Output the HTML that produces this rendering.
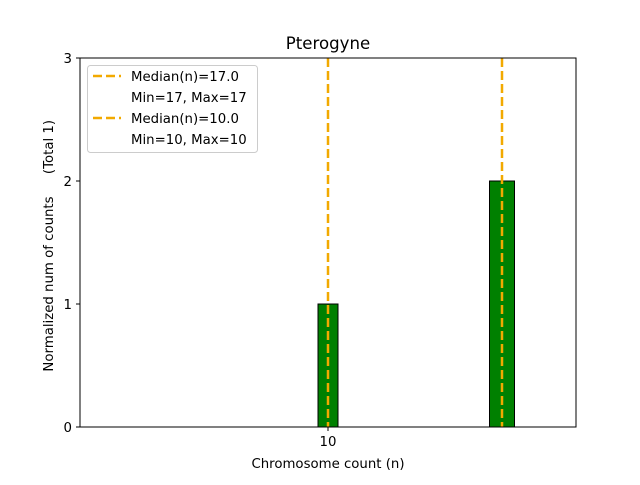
<!DOCTYPE html>
<html><head><style>body{margin:0;background:#fff}</style></head><body>
<svg width="640" height="480" xmlns="http://www.w3.org/2000/svg" font-family="DejaVu Sans, sans-serif">
<rect width="640" height="480" fill="#fff"/>
<rect x="318" y="304" width="20" height="123" fill="#008000" stroke="#000" stroke-width="1"/>
<rect x="489.5" y="181" width="25" height="246" fill="#008000" stroke="#000" stroke-width="1"/>
<line x1="328" y1="58" x2="328" y2="427" stroke="#f2a900" stroke-width="2.5" stroke-dasharray="9,4"/>
<line x1="502" y1="58" x2="502" y2="427" stroke="#f2a900" stroke-width="2.5" stroke-dasharray="9,4"/>
<rect x="80" y="58" width="496" height="369" fill="none" stroke="#000" stroke-width="1"/>
<g stroke="#000"><line x1="76" y1="427" x2="80" y2="427"/><line x1="76" y1="304" x2="80" y2="304"/><line x1="76" y1="181" x2="80" y2="181"/><line x1="76" y1="58" x2="80" y2="58"/><line x1="328" y1="427" x2="328" y2="431"/></g>
<g font-size="13.3" text-anchor="end"><text x="72" y="432">0</text><text x="72" y="309">1</text><text x="72" y="186">2</text><text x="72" y="63">3</text></g>
<text x="328" y="446" font-size="13.3" text-anchor="middle">10</text>
<text x="328" y="468" font-size="13.3" text-anchor="middle">Chromosome count (n)</text>
<text x="328" y="49" font-size="16.6" text-anchor="middle">Pterogyne</text>
<text transform="translate(53,284) rotate(-90)" font-size="13.3" text-anchor="middle">Normalized num of counts</text>
<text transform="translate(53,147) rotate(-90)" font-size="13.3" text-anchor="middle">(Total 1)</text>
<rect x="87.5" y="65.5" width="170" height="87" rx="3" fill="#fff" fill-opacity="0.8" stroke="#ccc"/>
<g stroke="#f2a900" stroke-width="2.5" stroke-dasharray="9,4"><line x1="93" y1="76" x2="121" y2="76"/><line x1="93" y1="118" x2="121" y2="118"/></g>
<g font-size="13.3"><text x="131" y="81">Median(n)=17.0</text><text x="131" y="102">Min=17, Max=17</text><text x="131" y="123">Median(n)=10.0</text><text x="131" y="144">Min=10, Max=10</text></g>
</svg>
</body></html>
